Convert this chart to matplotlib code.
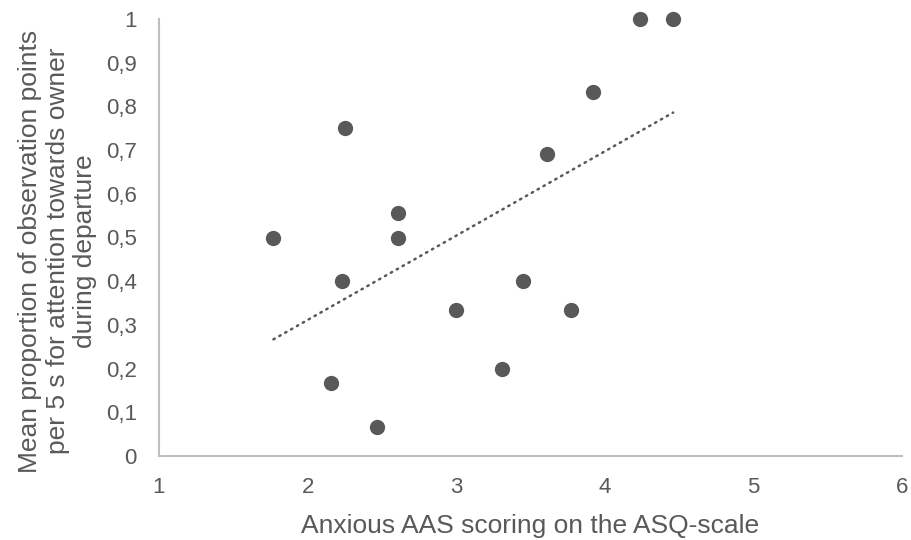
import numpy as np
import matplotlib
matplotlib.use("Agg")
import matplotlib.pyplot as plt
from matplotlib.ticker import FuncFormatter

# Data
anxious_aas = [1.77, 2.16, 2.23, 2.25, 2.47, 2.61, 2.61, 3.00, 3.31, 3.45, 3.61, 3.77, 3.92, 4.24, 4.46]
attention_prop = [0.50, 0.167, 0.40, 0.75, 0.067, 0.556, 0.50, 0.333, 0.20, 0.40, 0.69, 0.333, 0.833, 1.0, 1.0]

x_ticks = [1, 2, 3, 4, 5, 6]
y_ticks = [0, 0.1, 0.2, 0.3, 0.4, 0.5, 0.6, 0.7, 0.8, 0.9, 1.0]

x_label = "Anxious AAS scoring on the ASQ-scale"
y_label = "Mean proportion of observation points\nper 5 s for attention towards owner\nduring departure"

plt.rcParams['font.family'] = ['Liberation Sans', 'DejaVu Sans']

fig = plt.figure(figsize=(9.11, 5.40), dpi=100)
ax = fig.add_axes([159/911, 84/540, (902-159)/911, (456-19)/540])

txt = "#595959"
ax.scatter(anxious_aas, attention_prop, s=11.0**2, color=txt, zorder=3,
           linewidths=0, clip_on=False)

# linear trendline
xs = np.array(anxious_aas)
ys = np.array(attention_prop)
m, b = np.polyfit(xs, ys, 1)
xl = np.array([xs.min(), xs.max()])
ax.plot(xl, m*xl + b, color=txt, lw=1.8, linestyle=(0, (0.6, 2.1)),
        dash_capstyle='round', zorder=2)

ax.set_xlim(1, 6)
ax.set_ylim(0, 1)
ax.set_xticks(x_ticks)
ax.set_yticks(y_ticks)
fmt = lambda v, p: ("%g" % round(v, 1)).replace(".", ",")
ax.yaxis.set_major_formatter(FuncFormatter(fmt))
ax.xaxis.set_major_formatter(FuncFormatter(fmt))

for s in ['top', 'right']:
    ax.spines[s].set_visible(False)
for s in ['left', 'bottom']:
    ax.spines[s].set_color("#bfbfbf")
    ax.spines[s].set_linewidth(1.5)

ax.tick_params(axis='both', length=0, labelsize=16, colors=txt)
ax.tick_params(axis='y', pad=16)
ax.tick_params(axis='x', pad=15)

ax.set_xlabel(x_label, fontsize=19, color=txt, labelpad=12)
ax.set_ylabel(y_label, fontsize=19, color=txt, linespacing=1.18)
ax.yaxis.set_label_coords(-62/743, 0.469)

fig.savefig("out.png", dpi=100)
